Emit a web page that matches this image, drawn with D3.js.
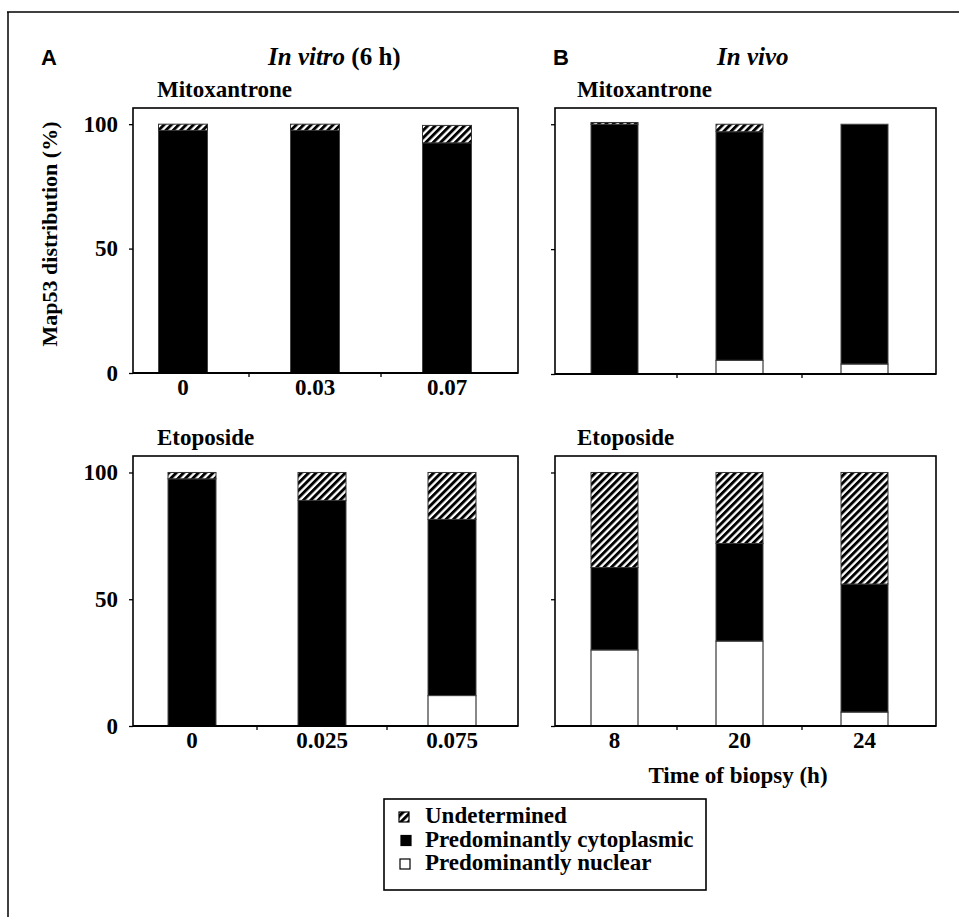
<!DOCTYPE html>
<html><head><meta charset="utf-8">
<script src="https://cdn.jsdelivr.net/npm/d3@7"></script>
<style>body{margin:0;background:#fff}svg{display:block}</style>
</head><body>
<svg id="c" width="959" height="917"></svg>
<script>
// ---- data ----
const seriesKeys = ["nuclear", "cytoplasmic", "undetermined"];
const legendLabels = ["Undetermined", "Predominantly cytoplasmic", "Predominantly nuclear"];
const yTickValues = [0, 50, 100];

const catsInVitroMitox = ["0", "0.03", "0.07"];
const nuclearInVitroMitox = [0, 0, 0];
const cytoInVitroMitox = [97.5, 97.5, 92.5];
const undetInVitroMitox = [2.5, 2.5, 7];

const catsInVitroEtop = ["0", "0.025", "0.075"];
const nuclearInVitroEtop = [0, 0, 12];
const cytoInVitroEtop = [97.5, 89, 69.5];
const undetInVitroEtop = [2.5, 11, 18.5];

const catsInVivo = ["8", "20", "24"];
const nuclearInVivoMitox = [0, 5.5, 4];
const cytoInVivoMitox = [100, 91.5, 96];
const undetInVivoMitox = [0.7, 3, 0];

const nuclearInVivoEtop = [30, 33.5, 5.5];
const cytoInVivoEtop = [32.5, 38.5, 50.5];
const undetInVivoEtop = [37.5, 28, 44];

// ---- drawing ----
const svg = d3.select("#c");
const SERIF = "'Liberation Serif','Times New Roman',serif";
const SANS = "'Liberation Sans',Arial,sans-serif";
const FS = 23;

const defs = svg.append("defs");
const pat = defs.append("pattern").attr("id", "hatch")
  .attr("patternUnits", "userSpaceOnUse").attr("width", 5.2).attr("height", 10)
  .attr("patternTransform", "rotate(45)");
pat.append("rect").attr("width", 5.2).attr("height", 10).attr("fill", "#fff");
pat.append("rect").attr("width", 2.9).attr("height", 10).attr("fill", "#000");

// outer frame (top and left)
svg.append("line").attr("x1", 7).attr("x2", 959).attr("y1", 12).attr("y2", 12).attr("stroke", "#000").attr("stroke-width", 1.5);
svg.append("line").attr("x1", 8).attr("x2", 8).attr("y1", 12).attr("y2", 917).attr("stroke", "#000").attr("stroke-width", 1.5);

const fills = {nuclear: "#fff", cytoplasmic: "#000", undetermined: "url(#hatch)"};
const strokes = {nuclear: "#111", cytoplasmic: "#444", undetermined: "#333"};

function panel(cfg) {
  const [x0, y0, x1, y1] = cfg.box;
  const x = d3.scaleBand().domain(cfg.cats).range(cfg.band).padding(0);
  const y = d3.scaleLinear().domain([0, 106.5]).range([y1, y0]);
  const rows = cfg.cats.map((c, i) => ({cat: c, nuclear: cfg.n[i], cytoplasmic: cfg.c[i], undetermined: cfg.u[i]}));
  const stack = d3.stack().keys(seriesKeys)(rows);
  const g = svg.append("g");
  stack.forEach(layer => {
    g.selectAll(null).data(layer.filter(d => d[1] - d[0] > 0)).join("rect")
      .attr("x", d => x(d.data.cat) + x.bandwidth() / 2 - cfg.barW / 2)
      .attr("width", cfg.barW)
      .attr("y", d => y(d[1]))
      .attr("height", d => y(d[0]) - y(d[1]))
      .attr("fill", fills[layer.key])
      .attr("stroke", strokes[layer.key]).attr("stroke-width", 1);
  });
  g.append("rect").attr("x", x0).attr("y", y0).attr("width", x1 - x0).attr("height", y1 - y0)
    .attr("fill", "none").attr("stroke", "#000").attr("stroke-width", 1.6);
  g.append("line").attr("x1", x0).attr("x2", x1).attr("y1", y1).attr("y2", y1).attr("stroke", "#000").attr("stroke-width", 2.2);
  const ya = g.append("g").attr("transform", `translate(${x0},0)`)
    .call(d3.axisLeft(y).tickValues(yTickValues).tickSize(4).tickPadding(11)
      .tickFormat(cfg.yLabels ? d3.format("d") : () => ""));
  ya.select(".domain").remove();
  ya.selectAll("line").attr("stroke-width", 1.3);
  ya.selectAll("text").attr("font-family", SERIF).attr("font-weight", "bold").attr("font-size", FS).attr("fill", "#000");
  const xa = g.append("g").attr("transform", `translate(0,${y1})`)
    .call(d3.axisBottom(x).tickSize(0).tickPadding(6).tickFormat(cfg.xLabels ? (d => d) : () => ""));
  xa.select(".domain").remove();
  xa.selectAll("text").attr("font-family", SERIF).attr("font-weight", "bold").attr("font-size", FS).attr("fill", "#000");
  g.selectAll(null).data(cfg.cats.slice(1)).join("line")
    .attr("x1", d => x(d)).attr("x2", d => x(d)).attr("y1", y1).attr("y2", y1 + 4)
    .attr("stroke", "#000").attr("stroke-width", 1.3);
  svg.append("text").attr("x", cfg.titleX).attr("y", y0 - 11).text(cfg.title)
    .attr("font-family", SERIF).attr("font-weight", "bold").attr("font-size", FS);
}

panel({cats: catsInVitroMitox, n: nuclearInVitroMitox, c: cytoInVitroMitox, u: undetInVitroMitox,
  box: [133, 108, 518, 373], band: [117, 513], barW: 49, yLabels: true, xLabels: true, title: "Mitoxantrone", titleX: 157});
panel({cats: catsInVitroEtop, n: nuclearInVitroEtop, c: cytoInVitroEtop, u: undetInVitroEtop,
  box: [133, 456, 518, 726], band: [127, 517], barW: 48, yLabels: true, xLabels: true, title: "Etoposide", titleX: 157});
panel({cats: catsInVivo, n: nuclearInVivoMitox, c: cytoInVivoMitox, u: undetInVivoMitox,
  box: [555, 108, 936, 374], band: [552, 927], barW: 47, yLabels: false, xLabels: false, title: "Mitoxantrone", titleX: 577});
panel({cats: catsInVivo, n: nuclearInVivoEtop, c: cytoInVivoEtop, u: undetInVivoEtop,
  box: [555, 456, 936, 726], band: [552, 927], barW: 47, yLabels: false, xLabels: true, title: "Etoposide", titleX: 577});

// headers
svg.append("text").attr("x", 41).attr("y", 65).text("A").attr("font-family", SANS).attr("font-weight", "bold").attr("font-size", 22);
svg.append("text").attr("x", 553).attr("y", 65).text("B").attr("font-family", SANS).attr("font-weight", "bold").attr("font-size", 22);
const t1 = svg.append("text").attr("x", 268).attr("y", 65).attr("font-family", SERIF).attr("font-weight", "bold").attr("font-size", 25);
t1.append("tspan").attr("font-style", "italic").text("In vitro");
t1.append("tspan").text(" (6 h)");
svg.append("text").attr("x", 717).attr("y", 65).attr("font-family", SERIF).attr("font-weight", "bold").attr("font-size", 25)
  .attr("font-style", "italic").text("In vivo");

// axis titles
svg.append("text").attr("transform", "translate(57,234) rotate(-90)").attr("text-anchor", "middle")
  .attr("font-family", SERIF).attr("font-weight", "bold").attr("font-size", 22).text("Map53 distribution (%)");
svg.append("text").attr("x", 738).attr("y", 783).attr("text-anchor", "middle")
  .attr("font-family", SERIF).attr("font-weight", "bold").attr("font-size", FS).text("Time of biopsy (h)");

// legend
const lg = svg.append("g");
lg.append("rect").attr("x", 384).attr("y", 799).attr("width", 322).attr("height", 91)
  .attr("fill", "none").attr("stroke", "#000").attr("stroke-width", 1.6);
const legendFills = ["url(#hatch)", "#000", "#fff"];
const legendSwX = [399, 401, 400];
legendLabels.forEach((lab, i) => {
  const by = 823 + i * 23.5;
  lg.append("rect").attr("x", legendSwX[i]).attr("y", by - 11).attr("width", 10).attr("height", 10)
    .attr("fill", legendFills[i]).attr("stroke", "#000").attr("stroke-width", 1.2);
  lg.append("text").attr("x", 425).attr("y", by).text(lab)
    .attr("font-family", SERIF).attr("font-weight", "bold").attr("font-size", FS);
});
</script>
</body></html>
